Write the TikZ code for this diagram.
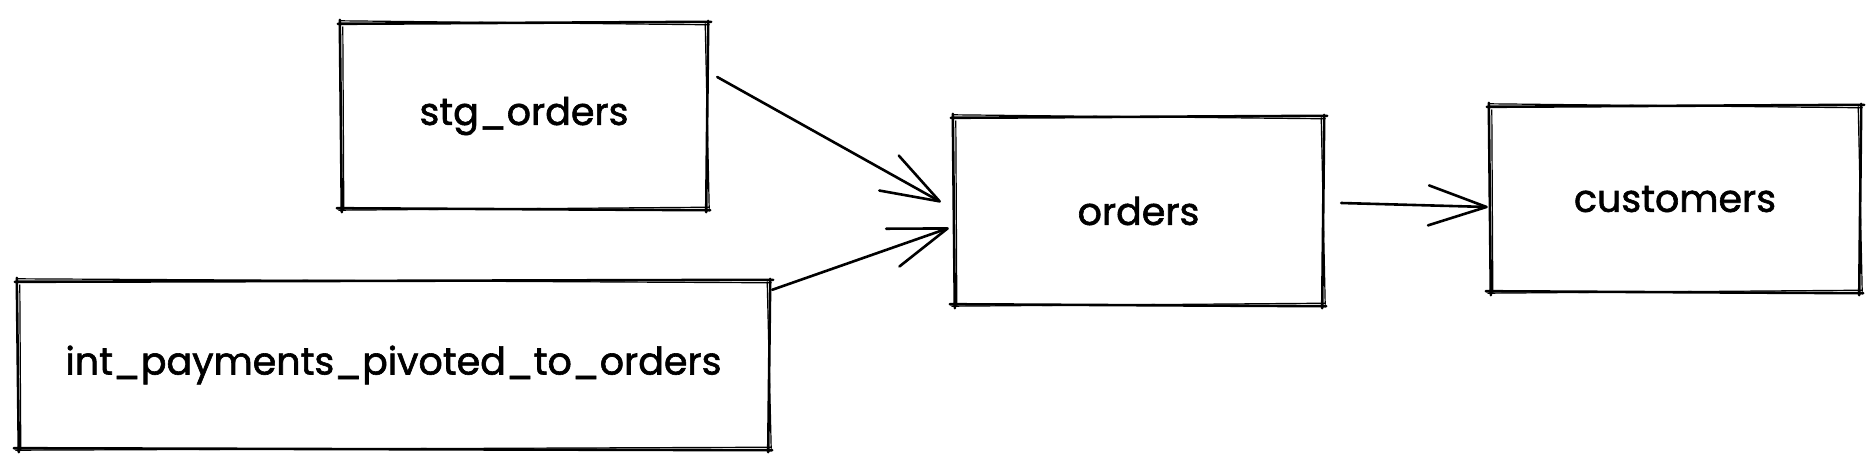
\documentclass[tikz,border=0pt]{standalone}
\usepackage{fontspec}
\setmainfont{Poppins}[FakeBold=1.6, AutoFakeBold=1.6]
\usetikzlibrary{arrows.meta}
\tikzset{
  boxn/.style={rectangle, inner sep=0pt, font=\fontsize{38}{42}\selectfont\bfseries, text=black},
  skline/.style={line width=2.6pt, line cap=round, line join=round, black},
  skthin/.style={line width=1.2pt, line cap=round, black},
  conn/.style={line width=2.6pt, line cap=round, black,
    -{Straight Barb[length=58pt, width=40pt, line width=2.6pt, round]}},
}
\newcommand\skbox[1]{%
  \draw[skline] ([shift={(-3,1)}]#1.north west) -- ([shift={(4,-1)}]#1.north east)
    ([shift={(1,-2)}]#1.north east) -- ([shift={(-1,3)}]#1.south east)
    ([shift={(3,1)}]#1.south east) -- ([shift={(-4,-1)}]#1.south west)
    ([shift={(1,3)}]#1.south west) -- ([shift={(-1,-3)}]#1.north west);
  \draw[skthin] ([shift={(0,-2)}]#1.north west) -- ([shift={(2,2)}]#1.north east)
    ([shift={(-2,1)}]#1.north east) -- ([shift={(2,-1)}]#1.south east)
    ([shift={(1,-2)}]#1.south east) -- ([shift={(-2,1)}]#1.south west)
    ([shift={(3,0)}]#1.south west) -- ([shift={(2,4)}]#1.north west);
}
\begin{document}
\begin{tikzpicture}[x=1pt, y=-1pt]
\useasboundingbox[fill=white] (0,0) rectangle (1876,467);
\node[boxn, minimum width=366pt, minimum height=186pt] (stg) at (524,116) {stg\_orders};
\node[boxn, minimum width=751pt, minimum height=168pt] (int) at (393.5,365) {int\_payments\_pivoted\_to\_orders};
\node[boxn, minimum width=369pt, minimum height=188pt] (ord) at (1138.5,211) {orders};
\node[boxn, minimum width=370pt, minimum height=186pt] (cus) at (1675,199) {customers};
\skbox{stg}
\skbox{int}
\skbox{ord}
\skbox{cus}
\draw[conn] ([shift={(10,-39)}]stg.east) -- ([shift={(-13,-9)}]ord.west);
\draw[conn] ([shift={(3,9)}]int.north east) -- ([shift={(-5,17)}]ord.west);
\draw[conn] ([shift={(18,-8)}]ord.east) -- ([shift={(-2,8)}]cus.west);
\end{tikzpicture}
\end{document}
